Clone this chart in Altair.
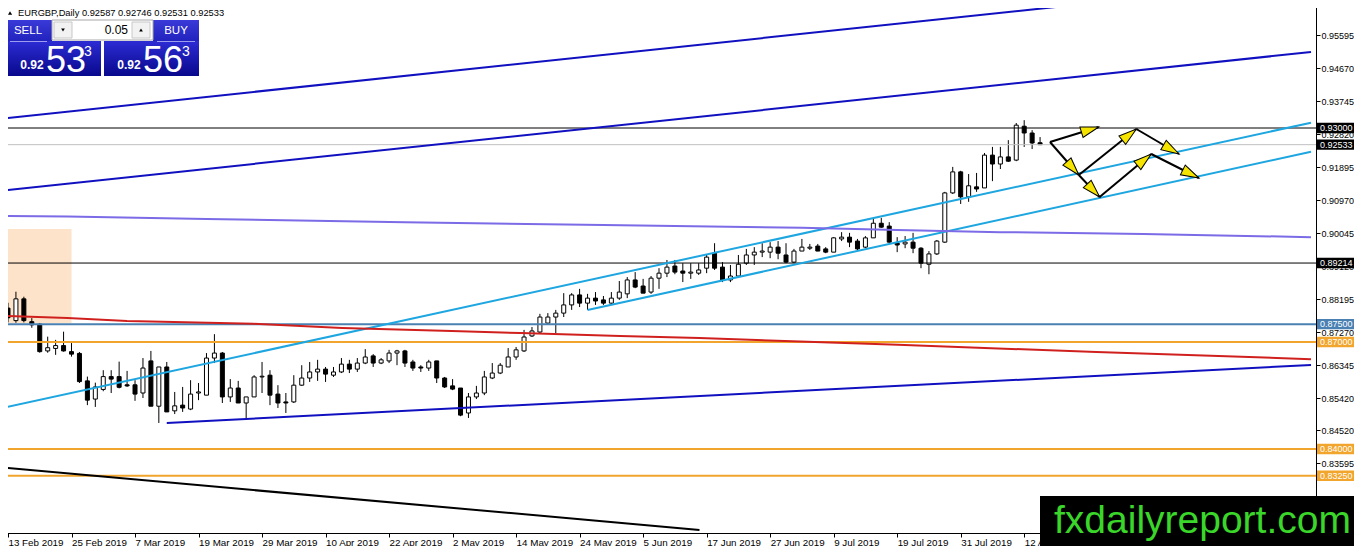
import math
import altair as alt
import pandas as pd

FONT = "Liberation Sans"

# ---------------- data ----------------
bar_index = list(range(131))
opens = [0.8795,0.8760,0.8821,0.8757,0.8750,0.8675,0.8682,0.8690,0.8673,0.8668,
0.8591,0.8540,0.8567,0.8603,0.8603,0.8580,0.8580,0.8557,0.8647,0.8520,
0.8630,0.8507,0.8523,0.8512,0.8557,0.8551,0.8655,0.8669,0.8546,0.8571,
0.8529,0.8546,0.8602,0.8607,0.8554,0.8532,0.8532,0.8579,0.8599,0.8616,
0.8624,0.8607,0.8616,0.8638,0.8624,0.8641,0.8661,0.8641,0.8647,0.8669,
0.8675,0.8644,0.8630,0.8627,0.8647,0.8599,0.8577,0.8571,0.8501,0.8546,
0.8557,0.8599,0.8613,0.8630,0.8658,0.8675,0.8717,0.8728,0.8753,0.8770,
0.8781,0.8804,0.8832,0.8809,0.8823,0.8818,0.8809,0.8823,0.8835,0.8874,
0.8857,0.8840,0.8879,0.8893,0.8913,0.8899,0.8893,0.8893,0.8907,0.8949,
0.8910,0.8874,0.8885,0.8921,0.8944,0.8952,0.8952,0.8966,0.8944,0.8924,
0.8955,0.8963,0.8969,0.8961,0.8952,0.8989,0.8994,0.8983,0.8966,0.8992,
0.9033,0.9025,0.8978,0.8975,0.8980,0.8963,0.8918,0.8947,0.8980,0.9118,
0.9177,0.9107,0.9135,0.9132,0.9224,0.9199,0.9219,0.9210,0.9305,0.9286,
0.92587]
highs = [0.8810,0.8841,0.8827,0.8767,0.8753,0.8715,0.8706,0.8729,0.8697,0.8672,
0.8603,0.8586,0.8621,0.8621,0.8645,0.8619,0.8593,0.8655,0.8675,0.8630,
0.8644,0.8560,0.8574,0.8593,0.8585,0.8669,0.8722,0.8672,0.8596,0.8591,
0.8546,0.8607,0.8644,0.8621,0.8579,0.8557,0.8607,0.8635,0.8644,0.8650,
0.8630,0.8630,0.8655,0.8650,0.8655,0.8680,0.8666,0.8655,0.8678,0.8678,
0.8678,0.8650,0.8635,0.8650,0.8647,0.8602,0.8596,0.8571,0.8557,0.8577,
0.8619,0.8641,0.8641,0.8683,0.8686,0.8734,0.8742,0.8779,0.8781,0.8790,
0.8837,0.8837,0.8849,0.8835,0.8840,0.8829,0.8840,0.8871,0.8882,0.8896,
0.8877,0.8885,0.8907,0.8930,0.8930,0.8921,0.8921,0.8921,0.8944,0.8977,
0.8924,0.8916,0.8944,0.8961,0.8966,0.8977,0.8980,0.8983,0.8977,0.8961,
0.8989,0.8975,0.8975,0.8966,0.8994,0.9008,0.9006,0.8989,0.8997,0.9048,
0.9048,0.9036,0.8994,0.8997,0.9006,0.8966,0.8955,0.8986,0.9121,0.9191,
0.9180,0.9171,0.9174,0.9230,0.9247,0.9247,0.9266,0.9314,0.9322,0.9294,
0.92746]
lows = [0.8755,0.8754,0.8755,0.8740,0.8670,0.8670,0.8664,0.8673,0.8659,0.8585,
0.8523,0.8518,0.8562,0.8557,0.8570,0.8574,0.8535,0.8543,0.8520,0.8473,
0.8504,0.8498,0.8504,0.8509,0.8537,0.8551,0.8641,0.8529,0.8532,0.8529,
0.8484,0.8546,0.8557,0.8523,0.8515,0.8501,0.8529,0.8577,0.8588,0.8591,
0.8588,0.8602,0.8613,0.8613,0.8616,0.8638,0.8630,0.8638,0.8641,0.8635,
0.8630,0.8619,0.8616,0.8619,0.8585,0.8571,0.8565,0.8492,0.8487,0.8540,
0.8551,0.8596,0.8610,0.8630,0.8650,0.8672,0.8714,0.8725,0.8750,0.8725,
0.8770,0.8790,0.8798,0.8790,0.8804,0.8804,0.8804,0.8818,0.8823,0.8851,
0.8837,0.8835,0.8849,0.8882,0.8890,0.8868,0.8877,0.8888,0.8893,0.8902,
0.8868,0.8868,0.8882,0.8916,0.8916,0.8938,0.8935,0.8932,0.8921,0.8921,
0.8955,0.8958,0.8955,0.8949,0.8952,0.8983,0.8966,0.8958,0.8963,0.8992,
0.9020,0.8978,0.8952,0.8963,0.8949,0.8907,0.8890,0.8944,0.8978,0.9115,
0.9087,0.9093,0.9121,0.9132,0.9151,0.9185,0.9205,0.9207,0.9247,0.9241,
0.92531]
closes = [0.8768,0.8821,0.8760,0.8748,0.8673,0.8684,0.8690,0.8675,0.8666,0.8589,
0.8537,0.8574,0.8603,0.8596,0.8573,0.8577,0.8554,0.8627,0.8520,0.8630,
0.8504,0.8521,0.8515,0.8554,0.8560,0.8655,0.8669,0.8546,0.8571,0.8529,
0.8546,0.8602,0.8604,0.8551,0.8529,0.8529,0.8579,0.8599,0.8616,0.8624,
0.8610,0.8616,0.8638,0.8624,0.8641,0.8658,0.8641,0.8650,0.8669,0.8675,
0.8641,0.8627,0.8627,0.8644,0.8599,0.8574,0.8568,0.8495,0.8546,0.8557,
0.8602,0.8613,0.8635,0.8658,0.8678,0.8714,0.8731,0.8770,0.8770,0.8781,
0.8804,0.8832,0.8809,0.8823,0.8815,0.8809,0.8823,0.8840,0.8874,0.8854,
0.8837,0.8879,0.8893,0.8910,0.8896,0.8893,0.8896,0.8902,0.8938,0.8907,
0.8874,0.8885,0.8918,0.8944,0.8952,0.8955,0.8966,0.8949,0.8924,0.8955,
0.8966,0.8966,0.8955,0.8952,0.8992,0.8994,0.8980,0.8961,0.8992,0.9033,
0.9022,0.8980,0.8972,0.8980,0.8963,0.8921,0.8947,0.8983,0.9118,0.9177,
0.9107,0.9138,0.9129,0.9224,0.9199,0.9219,0.9207,0.9308,0.9286,0.9258,
0.92533]

date_ticks = [0, 8, 16, 24, 32, 40, 48, 56, 64, 72, 80, 88, 96, 104, 112, 120, 128]
date_labels = ["13 Feb 2019", "25 Feb 2019", "7 Mar 2019", "19 Mar 2019", "29 Mar 2019",
               "10 Apr 2019", "22 Apr 2019", "2 May 2019", "14 May 2019", "24 May 2019",
               "5 Jun 2019", "17 Jun 2019", "27 Jun 2019", "9 Jul 2019", "19 Jul 2019",
               "31 Jul 2019", "12 Aug 2019"]
price_ticks = [0.95595, 0.94670, 0.93745, 0.92820, 0.91895, 0.90970, 0.90045, 0.89120,
               0.88195, 0.87270, 0.86345, 0.85420, 0.84520, 0.83595]

# horizontal levels
level_price = [0.93000, 0.92533, 0.89214, 0.87500, 0.87000, 0.84000, 0.83250]
level_color = ["#000000", "#C0C0C0", "#000000", "#4A80B2", "#F2A52C", "#F2A52C", "#F2A52C"]
level_width = [1, 1, 1, 2, 2, 2, 2]
level_tag_bg = ["#000000", "#000000", "#000000", "#4A80B2", "#F2A52C", "#F2A52C", "#F2A52C"]

# trend lines (bar index, price)
trend_x1 = [-0.125, -0.125, 20.0, -0.125, 73.0, -0.125]
trend_y1 = [0.93280, 0.91262, 0.84729, 0.85178, 0.87897, 0.83467]
trend_x2 = [136.75, 164.125, 164.125, 164.125, 164.125, 87.1]
trend_y2 = [0.96505, 0.95131, 0.86355, 0.93149, 0.92336, 0.81729]
trend_color = ["#1010C0", "#1010C0", "#1010C0", "#1EA6E0", "#1EA6E0", "#000000"]

# moving-average style lines
purple_x = [-0.125, 7.5, 25, 50, 75, 100, 112, 125, 143, 164.125]
purple_y = [0.9053, 0.9052, 0.9045, 0.9036, 0.9028, 0.9020, 0.9014, 0.9008, 0.9003, 0.8994]
red_x = [-0.125, 7.5, 15, 20.9, 30.9, 42.1, 55.9, 64.6, 77.1, 87.1, 112.1, 137.1, 164.125]
red_y = [0.8773, 0.8767, 0.8759, 0.8756, 0.8751, 0.8739, 0.8731, 0.8725, 0.8717, 0.8711,
         0.8692, 0.8672, 0.8652]

# shaded zone
zone_x = [-0.125, 8]
zone_y = [0.87533, 0.90168]

# projected path arrows
arrow_x1 = [131.25, 131.25, 134.875, 142.125, 134.875, 137.5, 144.0]
arrow_y1 = [0.92607, 0.92607, 0.91682, 0.92972, 0.91682, 0.91065, 0.92271]
arrow_x2 = [137.375, 134.875, 142.125, 147.5, 137.5, 144.0, 150.0]
arrow_y2 = [0.93028, 0.91682, 0.92972, 0.92271, 0.91065, 0.92271, 0.91598]

# ---------------- scales / layout ----------------
X_DOMAIN = [-0.125, 164.125]
Y_DOMAIN = [0.81645, 0.96589]
W, H = 1314, 533
xs = alt.Scale(domain=X_DOMAIN, nice=False, zero=False)
ys = alt.Scale(domain=Y_DOMAIN, nice=False, zero=False)
KX = W / (X_DOMAIN[1] - X_DOMAIN[0])
KY = H / (Y_DOMAIN[1] - Y_DOMAIN[0])

candles = pd.DataFrame({"i": bar_index, "o": opens, "h": highs, "l": lows, "c": closes})
candles["fill"] = ["#FFFFFF" if c >= o else "#000000" for o, c in zip(opens, closes)]

label_js = "[" + ",".join("'%s'" % s for s in date_labels) + "][round(datum.value/8)]"

x_axis = alt.Axis(values=date_ticks, labelExpr=label_js, title=None, grid=False,
                  tickSize=4, tickColor="black", domainColor="black", labelColor="black",
                  labelFont=FONT, labelFontSize=9.8, labelAlign="left", labelBaseline="top",
                  labelPadding=0, labelOverlap=False, labelFlush=False, labelBound=False)
y_axis = alt.Axis(orient="right", values=price_ticks, format=".5f", title=None, grid=False,
                  tickSize=4, tickColor="black", domainColor="black", labelColor="black",
                  labelFont=FONT, labelFontSize=9, labelPadding=1, labelBaseline="middle",
                  labelOverlap=False, labelFlush=False, labelBound=False)


def X(f):
    return alt.X(f, scale=xs, axis=x_axis, title=None)


def Y(f):
    return alt.Y(f, scale=ys, axis=y_axis, title=None)


layers = []

# shaded zone
zone = pd.DataFrame({"x": [zone_x[0]], "x2": [zone_x[1]], "y": [zone_y[0]], "y2": [zone_y[1]]})
layers.append(alt.Chart(zone).mark_rect(color="#FCE3CA").encode(
    x=X("x:Q"), x2="x2:Q", y=Y("y:Q"), y2="y2:Q"))

# wicks and bodies
layers.append(alt.Chart(candles).mark_rule(color="black", strokeWidth=1).encode(
    x=X("i:Q"), y=Y("l:Q"), y2="h:Q"))
layers.append(alt.Chart(candles).mark_bar(size=4, stroke="black", strokeWidth=1).encode(
    x=X("i:Q"), y=Y("o:Q"), y2="c:Q", fill=alt.Fill("fill:N", scale=None)))

# horizontal levels
levels = pd.DataFrame({"p": level_price, "col": level_color, "w": level_width,
                       "bg": level_tag_bg,
                       "txt": ["%.5f" % p for p in level_price]})
layers.append(alt.Chart(levels).mark_rule().encode(
    y=Y("p:Q"), color=alt.Color("col:N", scale=None),
    strokeWidth=alt.StrokeWidth("w:Q", scale=None)))

# trend lines
trends = pd.DataFrame({"x": trend_x1, "y": trend_y1, "x2": trend_x2, "y2": trend_y2,
                       "col": trend_color})
layers.append(alt.Chart(trends).mark_rule(strokeWidth=2, clip=True).encode(
    x=X("x:Q"), x2="x2:Q", y=Y("y:Q"), y2="y2:Q", color=alt.Color("col:N", scale=None)))

# MA lines
ma = pd.DataFrame({"x": purple_x + red_x, "y": purple_y + red_y,
                   "col": ["#7B6BE6"] * len(purple_x) + ["#D0201E"] * len(red_x)})
layers.append(alt.Chart(ma).mark_line(strokeWidth=2, clip=True).encode(
    x=X("x:Q"), y=Y("y:Q"), color=alt.Color("col:N", scale=None), order="x:Q"))

# arrows
arrows = pd.DataFrame({"x": arrow_x1, "y": arrow_y1, "x2": arrow_x2, "y2": arrow_y2})
layers.append(alt.Chart(arrows).mark_rule(color="black", strokeWidth=2).encode(
    x=X("x:Q"), x2="x2:Q", y=Y("y:Q"), y2="y2:Q"))
hx, hy, ha = [], [], []
for x1, y1, x2, y2 in zip(arrow_x1, arrow_y1, arrow_x2, arrow_y2):
    dxp = (x2 - x1) * KX
    dyp = -(y2 - y1) * KY
    L = math.hypot(dxp, dyp)
    ux, uy = dxp / L, dyp / L
    hx.append(x2 - 9 * ux / KX)
    hy.append(y2 + 9 * uy / KY)
    ha.append(math.degrees(math.atan2(dxp, -dyp)) % 360)
heads = pd.DataFrame({"x": hx, "y": hy, "a": ha})
layers.append(alt.Chart(heads).mark_point(
    shape="M0,-1L0.6,1L-0.6,1Z", size=324, filled=True, fill="#F5E400",
    stroke="black", strokeWidth=1, opacity=1).encode(
    x=X("x:Q"), y=Y("y:Q"), angle=alt.Angle("a:Q", scale=None)))

# price tags on the right axis
layers.append(alt.Chart(levels).mark_point(
    shape="M-1.9,-0.52L1.9,-0.52L1.9,0.52L-1.9,0.52Z", size=400, filled=True,
    opacity=1, strokeWidth=0).encode(
    x=alt.value(1334), y=Y("p:Q"), fill=alt.Fill("bg:N", scale=None)))
layers.append(alt.Chart(levels).mark_text(
    align="left", baseline="middle", font=FONT, fontSize=9, color="white").encode(
    x=alt.value(1318), y=Y("p:Q"), text="txt:N"))


# ---------------- chrome: trade panel and watermark ----------------
def one(s=""):
    return pd.DataFrame({"t": [s]})


def rect(px1, py1, px2, py2, fill, stroke=None, sw=1):
    kw = {"fill": fill}
    if stroke:
        kw.update(stroke=stroke, strokeWidth=sw)
    return alt.Chart(one()).mark_rect(**kw).encode(
        x=alt.value(px1 - 2), x2=alt.value(px2 - 2), y=alt.value(py1), y2=alt.value(py2))


def txt(s, px, py, size, color="black", weight="normal", align="left", baseline="middle"):
    return alt.Chart(one(s)).mark_text(
        align=align, baseline=baseline, font=FONT, fontSize=size, color=color,
        fontWeight=weight).encode(x=alt.value(px - 2), y=alt.value(py), text="t:N")


def hline(px1, px2, py, color, w=1):
    return alt.Chart(one()).mark_rule(color=color, strokeWidth=w).encode(
        x=alt.value(px1 - 2), x2=alt.value(px2 - 2), y=alt.value(py))


def tri(px, py, shape, size=18, color="black"):
    return alt.Chart(one()).mark_point(shape=shape, size=size, filled=True, color=color,
                                       opacity=1).encode(x=alt.value(px - 2), y=alt.value(py))


grad = alt.Gradient(gradient="linear",
                    stops=[alt.GradientStop(offset=0, color="#2C2CD4"),
                           alt.GradientStop(offset=1, color="#08088C")],
                    x1=0, x2=0, y1=0, y2=1)
btn = alt.Gradient(gradient="linear",
                   stops=[alt.GradientStop(offset=0, color="#3A3AD8"),
                          alt.GradientStop(offset=1, color="#2222BE")],
                   x1=0, x2=0, y1=0, y2=1)

layers += [
    tri(10, 13, "triangle-up", 18),
    txt("EURGBP,Daily  0.92587 0.92746 0.92531 0.92533", 18, 13, 9.3),
    rect(6, 20, 52, 41, btn),
    rect(153, 20, 199, 41, btn),
    rect(6, 41, 101, 76, grad),
    rect(104, 41, 199, 76, grad),
    rect(52, 20, 153, 40, "#FFFFFF", "#A8A8A8"),
    rect(54, 22, 72, 38, "#F2F2F2", "#C8C8C8"),
    rect(132, 22, 150, 38, "#F2F2F2", "#C8C8C8"),
    tri(63, 30, "triangle-down", 14),
    tri(141, 30, "triangle-up", 14),
    txt("0.05", 128, 30, 12, align="right"),
    hline(10, 47, 41.5, "#9C9CF0"),
    hline(157, 195, 41.5, "#9C9CF0"),
    txt("SELL", 28, 31, 11.5, color="white", align="center"),
    txt("BUY", 176, 31, 11.5, color="white", align="center"),
    txt("0.92", 32, 65, 12, color="white", weight="bold", align="center"),
    txt("53", 66, 72, 36, color="white", align="center", baseline="alphabetic"),
    txt("3", 88, 52, 14, color="white", align="center"),
    txt("0.92", 129, 65, 12, color="white", weight="bold", align="center"),
    txt("56", 163, 72, 36, color="white", align="center", baseline="alphabetic"),
    txt("3", 186, 52, 14, color="white", align="center"),
    rect(1040, 496, 1362, 554, "#000000"),
    txt("fxdailyreport.com", 1054, 533, 39, color="#3AD62A", baseline="alphabetic"),
]

chart = alt.layer(*layers).properties(
    width=W, height=H,
    autosize=alt.AutoSizeParams(type="none"),
    padding={"left": -6, "top": -8, "right": 38, "bottom": 13},
    background="white",
).configure_view(stroke="black", strokeWidth=1)

chart.save("out.html", embed_options={"renderer": "svg", "actions": False})
